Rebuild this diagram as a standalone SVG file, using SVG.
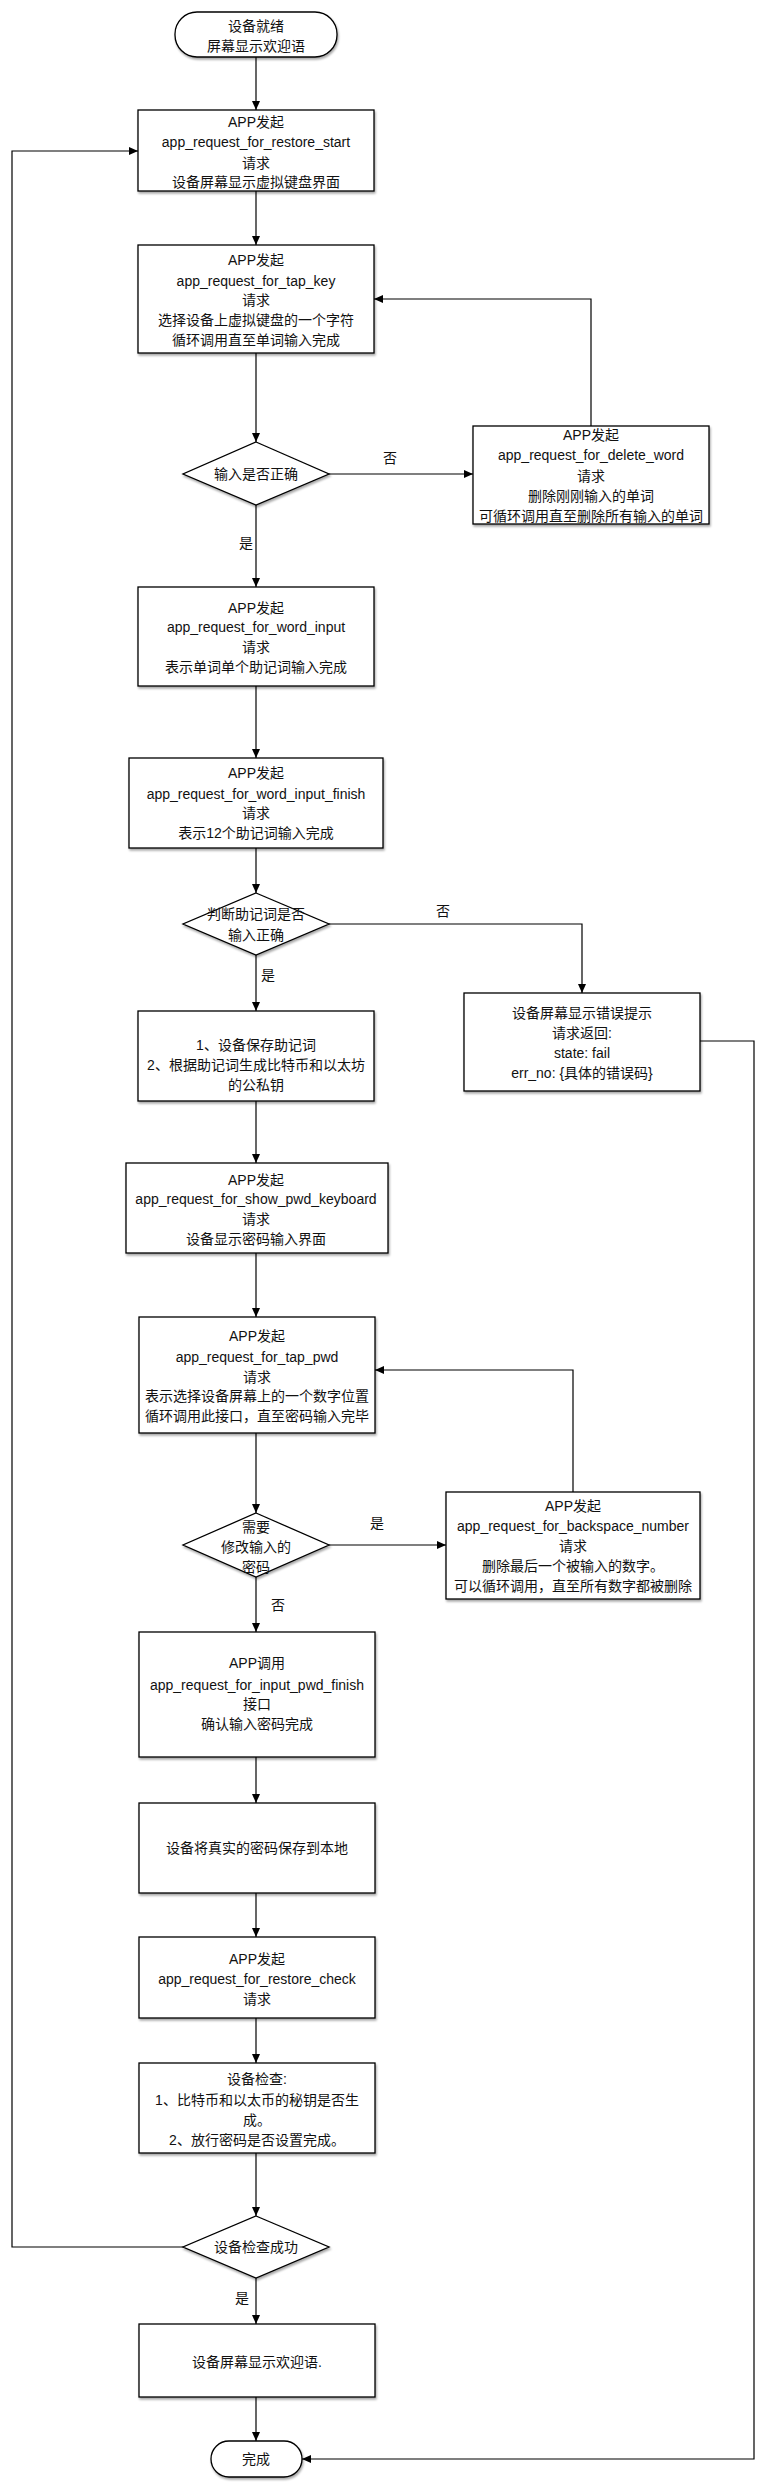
<svg xmlns="http://www.w3.org/2000/svg" width="760" height="2488" viewBox="0 0 760 2488">
<style>
text{font-family:"Liberation Sans","Noto Sans CJK SC",sans-serif;font-size:14px;fill:#111;text-anchor:middle;dominant-baseline:central}
.n{fill:#fff;stroke:#000;stroke-width:1.3;filter:url(#sh)}
.c{fill:none;stroke:#000;stroke-width:1.2;marker-end:url(#ah)}
.l{fill:none;stroke:#000;stroke-width:1.2}
</style>
<defs>
<marker id="ah" markerUnits="userSpaceOnUse" markerWidth="10" markerHeight="8" refX="9" refY="4" orient="auto"><path d="M0,0 L9,4 L0,8 z" fill="#000"/></marker>
<filter id="sh" x="-10%" y="-10%" width="125%" height="130%"><feDropShadow dx="1" dy="2" stdDeviation="1.2" flood-color="#000" flood-opacity="0.35"/></filter>
</defs>
<rect width="760" height="2488" fill="#fff"/>
<g id="connectors">
<path class="c" d="M256,57 V110"/>
<path class="c" d="M256,191 V245"/>
<path class="c" d="M256,353 V442"/>
<path class="c" d="M329,474 H473"/>
<path class="c" d="M591,426 V299 H374"/>
<path class="c" d="M256,505 V587"/>
<path class="c" d="M256,686 V758"/>
<path class="c" d="M256,848 V893"/>
<path class="c" d="M329,924 H582 V993"/>
<path class="c" d="M256,955 V1011"/>
<path class="c" d="M256,1101 V1163"/>
<path class="c" d="M256,1253 V1317"/>
<path class="c" d="M256,1433 V1513"/>
<path class="c" d="M329,1545 H446"/>
<path class="c" d="M573,1492 V1370 H375"/>
<path class="c" d="M256,1577 V1632"/>
<path class="c" d="M256,1757 V1803"/>
<path class="c" d="M256,1893 V1937"/>
<path class="c" d="M256,2018 V2063"/>
<path class="c" d="M256,2153 V2216"/>
<path class="c" d="M183,2247 H12 V151 H138"/>
<path class="c" d="M256,2278 V2324"/>
<path class="c" d="M256,2397 V2441"/>
<path class="c" d="M700,1041 H754 V2459 H302"/>
<text x="390" y="458">否</text>
<text x="246" y="543">是</text>
<text x="443" y="911">否</text>
<text x="268" y="975">是</text>
<text x="377" y="1523">是</text>
<text x="278" y="1605">否</text>
<text x="242" y="2298">是</text>
</g>
<g id="start"><rect class="n" x="175" y="12" width="162" height="45" rx="22" ry="22"/><text x="256" y="26">设备就绪</text><text x="256" y="46">屏幕显示欢迎语</text></g>
<g id="restore_start"><rect class="n" x="138" y="110" width="236" height="81"/><text x="256" y="122">APP发起</text><text x="256" y="142">app_request_for_restore_start</text><text x="256" y="163">请求</text><text x="256" y="182">设备屏幕显示虚拟键盘界面</text></g>
<g id="tap_key"><rect class="n" x="138" y="245" width="236" height="108"/><text x="256" y="260">APP发起</text><text x="256" y="281">app_request_for_tap_key</text><text x="256" y="300">请求</text><text x="256" y="320">选择设备上虚拟键盘的一个字符</text><text x="256" y="340">循环调用直至单词输入完成</text></g>
<g id="check_input"><path class="n" d="M256,442 L329,474 L256,505 L183,474 z"/><text x="256" y="474">输入是否正确</text></g>
<g id="delete_word"><rect class="n" x="473" y="426" width="236" height="98"/><text x="591" y="435">APP发起</text><text x="591" y="455">app_request_for_delete_word</text><text x="591" y="476">请求</text><text x="591" y="496">删除刚刚输入的单词</text><text x="591" y="516">可循环调用直至删除所有输入的单词</text></g>
<g id="word_input"><rect class="n" x="138" y="587" width="236" height="99"/><text x="256" y="608">APP发起</text><text x="256" y="627">app_request_for_word_input</text><text x="256" y="647">请求</text><text x="256" y="667">表示单词单个助记词输入完成</text></g>
<g id="word_input_finish"><rect class="n" x="129" y="758" width="254" height="90"/><text x="256" y="773">APP发起</text><text x="256" y="794">app_request_for_word_input_finish</text><text x="256" y="813">请求</text><text x="256" y="833">表示12个助记词输入完成</text></g>
<g id="check_words"><path class="n" d="M256,893 L329,924 L256,955 L183,924 z"/><text x="256" y="914">判断助记词是否</text><text x="256" y="935">输入正确</text></g>
<g id="error"><rect class="n" x="464" y="993" width="236" height="98"/><text x="582" y="1013">设备屏幕显示错误提示</text><text x="582" y="1033">请求返回:</text><text x="582" y="1053">state: fail</text><text x="582" y="1073">err_no: {具体的错误码}</text></g>
<g id="save_words"><rect class="n" x="138" y="1011" width="236" height="90"/><text x="256" y="1045">1、设备保存助记词</text><text x="256" y="1065">2、根据助记词生成比特币和以太坊</text><text x="256" y="1085">的公私钥</text></g>
<g id="show_pwd_keyboard"><rect class="n" x="126" y="1163" width="262" height="90"/><text x="256" y="1180">APP发起</text><text x="256" y="1199">app_request_for_show_pwd_keyboard</text><text x="256" y="1219">请求</text><text x="256" y="1239">设备显示密码输入界面</text></g>
<g id="tap_pwd"><rect class="n" x="139" y="1317" width="236" height="116"/><text x="257" y="1336">APP发起</text><text x="257" y="1357">app_request_for_tap_pwd</text><text x="257" y="1377">请求</text><text x="257" y="1396">表示选择设备屏幕上的一个数字位置</text><text x="257" y="1416">循环调用此接口，直至密码输入完毕</text></g>
<g id="check_pwd"><path class="n" d="M256,1513 L329,1545 L256,1577 L183,1545 z"/><text x="256" y="1527">需要</text><text x="256" y="1547">修改输入的</text><text x="256" y="1567">密码</text></g>
<g id="backspace"><rect class="n" x="446" y="1492" width="254" height="107"/><text x="573" y="1506">APP发起</text><text x="573" y="1526">app_request_for_backspace_number</text><text x="573" y="1546">请求</text><text x="573" y="1566">删除最后一个被输入的数字。</text><text x="573" y="1586">可以循环调用，直至所有数字都被删除</text></g>
<g id="input_pwd_finish"><rect class="n" x="139" y="1632" width="236" height="125"/><text x="257" y="1663">APP调用</text><text x="257" y="1685">app_request_for_input_pwd_finish</text><text x="257" y="1704">接口</text><text x="257" y="1724">确认输入密码完成</text></g>
<g id="save_pwd"><rect class="n" x="139" y="1803" width="236" height="90"/><text x="257" y="1848">设备将真实的密码保存到本地</text></g>
<g id="restore_check"><rect class="n" x="139" y="1937" width="236" height="81"/><text x="257" y="1959">APP发起</text><text x="257" y="1979">app_request_for_restore_check</text><text x="257" y="1999">请求</text></g>
<g id="device_check"><rect class="n" x="139" y="2063" width="236" height="90"/><text x="257" y="2079">设备检查:</text><text x="257" y="2100">1、比特币和以太币的秘钥是否生</text><text x="257" y="2120">成。</text><text x="257" y="2140">2、放行密码是否设置完成。</text></g>
<g id="check_ok"><path class="n" d="M256,2216 L329,2247 L256,2278 L183,2247 z"/><text x="256" y="2247">设备检查成功</text></g>
<g id="welcome"><rect class="n" x="139" y="2324" width="236" height="73"/><text x="257" y="2362">设备屏幕显示欢迎语.</text></g>
<g id="end"><rect class="n" x="211" y="2441" width="91" height="36" rx="18" ry="18"/><text x="256" y="2459">完成</text></g>
</svg>
